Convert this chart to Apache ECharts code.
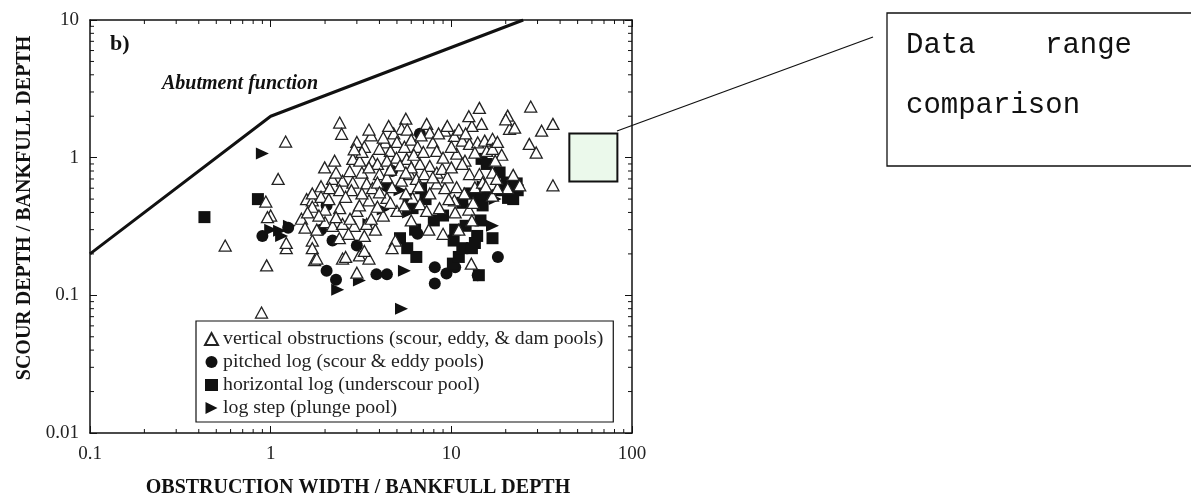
<!DOCTYPE html>
<html>
<head>
<meta charset="utf-8">
<title>Scour depth vs obstruction width</title>
<script src="https://cdn.jsdelivr.net/npm/echarts@6/dist/echarts.min.js"></script>
<style>
  html, body { margin: 0; padding: 0; background: #fff; }
  #myChart { width: 1191px; height: 498px; }
</style>
</head>
<body>
<div id="myChart"></div>
<script>
// data (x = obstruction width / bankfull depth, y = scour depth / bankfull depth)
var verticalObstructions = [
  [0.56, 0.23], [0.89, 0.075], [0.95, 0.165], [1.21, 1.31], [1.1, 0.70], [0.94, 0.48], [1.0, 0.38], [0.96, 0.37],
  [1.22, 0.22], [1.22, 0.24], [1.58, 0.50], [1.7, 0.49], [1.7, 0.44], [1.48, 0.36], [1.7, 0.25], [1.7, 0.22],
  [1.75, 0.18], [1.6, 0.4], [1.8, 0.3], [1.7, 0.55], [1.9, 0.62], [1.9, 0.52], [2.0, 0.42], [2.1, 0.5],
  [2.41, 1.8], [2.47, 1.49], [5.6, 1.92], [5.3, 1.62], [5.7, 1.6], [7.3, 1.76], [7.6, 1.52], [9.2, 1.57],
  [4.3, 1.29], [4.0, 1.16], [4.6, 1.12], [7.9, 1.29], [8.3, 1.12],
  [14.3, 2.3], [14.7, 1.76], [13.0, 1.7], [20.5, 2.02], [21, 1.62], [22.4, 1.65], [27.5, 2.35], [31.6, 1.57],
  [36.5, 1.76], [27, 1.26], [29.5, 1.09], [36.5, 0.63],
  [10.4, 1.44], [11.5, 1.33], [12.6, 1.26], [14, 1.29], [15.3, 1.33], [16.9, 1.37], [10.7, 1.07], [11.9, 0.95],
  [13.5, 1.09], [15.7, 1.12], [16.9, 1.16],
  [2.26, 0.95], [1.99, 0.85], [2.85, 0.98], [3.11, 0.95], [2.74, 0.8], [3.2, 0.78], [3.66, 0.95], [3.9, 0.9],
  [4.0, 0.76], [4.97, 1.0], [5.66, 0.98], [6.7, 0.9], [7.6, 0.87], [8.3, 0.78], [8.9, 0.83],
  [2.2, 0.70], [2.5, 0.68], [2.85, 0.66], [2.12, 0.6], [2.41, 0.58], [2.8, 0.58], [3.4, 0.65], [3.66, 0.6],
  [3.9, 0.66], [4.4, 0.72], [4.7, 0.61], [5.3, 0.68], [5.9, 0.76], [6.4, 0.70], [7.1, 0.76], [6.1, 0.51],
  [6.7, 0.46], [7.6, 0.55], [8.3, 0.65], [9.2, 0.6],
  [2.41, 0.43], [3.0, 0.41], [3.5, 0.49], [4.4, 0.51], [5.0, 0.41], [7.3, 0.41], [8.6, 0.43],
  [11.5, 0.9], [12.6, 0.76], [14.3, 0.76], [16.9, 0.78], [23.9, 0.63], [13.5, 0.61], [14.9, 0.66], [16.9, 0.53],
  [10.7, 0.61], [10.4, 0.49],
  [1.8, 0.185], [2.5, 0.185], [3.1, 0.195], [3.5, 0.185], [3.0, 0.146], [12.9, 0.17], [2.6, 0.19],
  [2.0, 0.34], [2.2, 0.32], [2.5, 0.33], [2.9, 0.32], [3.4, 0.33], [2.4, 0.26], [3.3, 0.27], [3.3, 0.21],
  [4.9, 0.25], [4.7, 0.22],
  [3.0, 1.3], [3.3, 1.2], [3.6, 1.45], [4.2, 1.4], [4.8, 1.5], [5.0, 1.3], [5.5, 1.2], [6.0, 1.35], [6.5, 1.2],
  [6.2, 1.05], [7.0, 1.1], [3.2, 1.1], [2.9, 1.15], [4.4, 0.95], [5.2, 0.88], [6.0, 0.85], [3.5, 0.85],
  [4.6, 0.82], [5.6, 0.78], [2.3, 0.78], [2.6, 0.52], [3.2, 0.55], [4.0, 0.56], [4.6, 0.47], [5.6, 0.55],
  [9.5, 0.72], [10, 0.85], [9.0, 1.0], [10.0, 1.2], [11.0, 1.6], [12, 1.5], [18, 1.3], [19, 1.05], [17.5, 0.95],
  [20, 1.9], [12.5, 2.0], [9.5, 1.7], [8.5, 1.5], [6.8, 1.45], [4.5, 1.7], [3.5, 1.6], [2.7, 0.28], [3.8, 0.3],
  [4.2, 0.38], [3.6, 0.36], [6.0, 0.35], [7.5, 0.3], [10.5, 0.4], [12.5, 0.42], [13.0, 0.35], [11.0, 0.3],
  [9, 0.28], [20.5, 0.6], [22, 0.75], [18, 0.6],
  [1.55, 0.31], [1.85, 0.38], [2.3, 0.37], [2.75, 0.36], [3.1, 0.45], [3.9, 0.44], [5.5, 0.45], [6.6, 0.62],
  [7.9, 0.72], [9.7, 0.5], [11.8, 0.55], [13.2, 0.47], [15.5, 0.62], [17.8, 0.7]
]
var pitchedLog = [
  [0.9, 0.27], [6.7, 1.49], [4.7, 0.8], [2.04, 0.45], [2.04, 0.151], [2.3, 0.13], [3.85, 0.142], [4.4, 0.142],
  [8.1, 0.16], [8.1, 0.122], [9.4, 0.144], [18.1, 0.19], [14, 0.14], [3.0, 0.23], [1.9, 0.3], [2.2, 0.25],
  [1.25, 0.31], [6.5, 0.28], [10.5, 0.16], [4.4, 0.62]
]
var horizontalLog = [
  [0.43, 0.37], [0.85, 0.50], [6.1, 0.43], [6.4, 0.19], [10.2, 0.17], [11, 0.19], [13.9, 0.27], [16.9, 0.26],
  [11.5, 0.22], [13, 0.22], [14.7, 0.98], [15.7, 0.9], [18.5, 0.78], [20.3, 0.66], [23, 0.65], [23.3, 0.58],
  [19, 0.58], [20.6, 0.51], [16.3, 0.53], [14.3, 0.51], [12.6, 0.55], [11.5, 0.47], [14.9, 0.45], [5.2, 0.26],
  [5.7, 0.22], [6.3, 0.3], [10.5, 0.3], [12, 0.32], [10.3, 0.25], [22, 0.5], [9, 0.38], [7.2, 0.5], [6.8, 0.6],
  [5.8, 0.5], [8, 0.35], [14.5, 0.35], [13.5, 0.24], [14.2, 0.14]
]
var logStep = [
  [0.9, 1.07], [1.12, 0.295], [1.27, 0.32], [1.0, 0.3], [5.2, 0.58], [5.5, 0.151], [5.3, 0.08], [2.35, 0.11],
  [3.1, 0.128], [16.9, 0.32], [4.2, 0.42], [5.8, 0.4], [15, 0.62], [3.5, 0.33], [17.5, 0.5], [1.15, 0.27]
]
var abutmentFunction = [[0.1, 0.2], [1, 2], [25, 10]]
var comparisonRange = [[45, 1.5], [83, 0.67]]

var seriesNames = [
  'vertical obstructions (scour, eddy, & dam pools)',
  'pitched log (scour & eddy pools)',
  'horizontal log (underscour pool)',
  'log step (plunge pool)'
]
var xRange = [0.1, 100]
var yRange = [0.01, 10]
var xMinorTicks = [0.2, 0.3, 0.4, 0.5, 0.6, 0.7, 0.8, 0.9, 2, 3, 4, 5, 6, 7, 8, 9, 20, 30, 40, 50, 60, 70, 80, 90]
var yMinorTicks = [0.02, 0.03, 0.04, 0.05, 0.06, 0.07, 0.08, 0.09, 0.2, 0.3, 0.4, 0.5, 0.6, 0.7, 0.8, 0.9, 2, 3, 4, 5, 6, 7, 8, 9]

var serif = '"Liberation Serif", "Times New Roman", serif'
var mono = '"Liberation Mono", "Courier New", monospace'
var ink = '#111'

function logAxis (pos, range, showLabel) {
  return {
    type: 'log',
    logBase: 10,
    position: pos,
    min: range[0],
    max: range[1],
    axisLine: { lineStyle: { color: ink, width: 1.5 } },
    axisTick: { inside: true, length: 7, lineStyle: { color: ink, width: 1 } },
    axisLabel: {
      show: showLabel,
      fontFamily: serif,
      fontSize: 19,
      color: '#222',
      margin: pos === 'left' ? 11 : 12
    },
    splitLine: { show: false }
  }
}

// short inward ticks for the 2..9 positions of every decade, drawn on both sides
function tickPair (a, b, dx, dy) {
  return {
    type: 'group',
    children: [
      { type: 'line', shape: { x1: a[0], y1: a[1], x2: a[0] + dx, y2: a[1] - dy }, style: { stroke: ink, lineWidth: 1 } },
      { type: 'line', shape: { x1: b[0], y1: b[1], x2: b[0] - dx, y2: b[1] + dy }, style: { stroke: ink, lineWidth: 1 } }
    ]
  }
}

var myChart = echarts.init(document.getElementById('myChart'))
myChart.setOption({
  animation: false,
  backgroundColor: '#fff',
  grid: { left: 90, top: 20, width: 542, height: 413 },
  xAxis: [logAxis('bottom', xRange, true), logAxis('top', xRange, false)],
  yAxis: [logAxis('left', yRange, true), logAxis('right', yRange, false)],
  legend: {
    data: [
      seriesNames[0],
      seriesNames[1],
      seriesNames[2],
      { name: seriesNames[3], icon: 'path://M0,0L12,6L0,12Z' }
    ],
    orient: 'vertical',
    left: 196,
    top: 321,
    padding: [8, 10, 4, 8],
    itemGap: 3,
    itemWidth: 13,
    itemHeight: 12,
    borderColor: ink,
    borderWidth: 1.2,
    backgroundColor: '#fff',
    textStyle: { fontFamily: serif, fontSize: 19.8, color: '#222', lineHeight: 20 }
  },
  series: [
    {
      name: 'Abutment function',
      type: 'line',
      data: abutmentFunction,
      showSymbol: false,
      silent: true,
      lineStyle: { color: ink, width: 3 },
      markArea: {
        silent: true,
        itemStyle: { color: '#ebf9eb', borderColor: ink, borderWidth: 2 },
        data: [[{ coord: comparisonRange[0] }, { coord: comparisonRange[1] }]]
      }
    },
    {
      name: seriesNames[1],
      type: 'scatter',
      data: pitchedLog,
      symbol: 'circle',
      symbolSize: 12,
      itemStyle: { color: ink, opacity: 1 }
    },
    {
      name: seriesNames[2],
      type: 'scatter',
      data: horizontalLog,
      symbol: 'rect',
      symbolSize: 12,
      itemStyle: { color: ink, opacity: 1 }
    },
    {
      name: seriesNames[3],
      type: 'scatter',
      data: logStep,
      symbol: 'triangle',
      symbolRotate: -90,
      symbolSize: [12, 13],
      itemStyle: { color: ink, opacity: 1 }
    },
    {
      name: seriesNames[0],
      type: 'scatter',
      z: 3,
      data: verticalObstructions,
      symbol: 'triangle',
      symbolSize: [12, 11],
      itemStyle: { color: '#fff', borderColor: '#222', borderWidth: 1.3, opacity: 1 }
    },
    {
      type: 'custom',
      silent: true,
      data: xMinorTicks.map(function (v) { return [v, 1] }),
      renderItem: function (params, api) {
        var v = api.value(0)
        return tickPair(api.coord([v, yRange[0]]), api.coord([v, yRange[1]]), 0, 4)
      }
    },
    {
      type: 'custom',
      silent: true,
      data: yMinorTicks.map(function (v) { return [1, v] }),
      renderItem: function (params, api) {
        var v = api.value(1)
        return tickPair(api.coord([xRange[0], v]), api.coord([xRange[1], v]), 4, 0)
      }
    }
  ],
  graphic: [
    { type: 'text', left: 110, top: 33, style: { text: 'b)', font: 'bold 22px ' + serif, fill: ink } },
    { type: 'text', left: 162, top: 74, style: { text: 'Abutment function', font: 'italic bold 20px ' + serif, fill: ink } },
    {
      type: 'text', x: 25, y: 208, rotation: Math.PI / 2,
      style: { text: 'SCOUR DEPTH / BANKFULL DEPTH', font: 'bold 20px ' + serif, fill: ink, align: 'center', verticalAlign: 'middle' }
    },
    {
      type: 'text', x: 358, y: 488,
      style: { text: 'OBSTRUCTION WIDTH / BANKFULL DEPTH', font: 'bold 20px ' + serif, fill: ink, align: 'center', verticalAlign: 'middle' }
    },
    // call-out box on the right
    { type: 'line', shape: { x1: 617, y1: 131, x2: 873, y2: 37 }, style: { stroke: ink, lineWidth: 1.3 } },
    { type: 'rect', shape: { x: 887, y: 13, width: 330, height: 153 }, style: { fill: '#fff', stroke: ink, lineWidth: 1.3 } },
    { type: 'text', x: 906, y: 45, style: { text: 'Data', font: '29px ' + mono, fill: ink, verticalAlign: 'middle' } },
    { type: 'text', x: 1045, y: 45, style: { text: 'range', font: '29px ' + mono, fill: ink, verticalAlign: 'middle' } },
    { type: 'text', x: 906, y: 105, style: { text: 'comparison', font: '29px ' + mono, fill: ink, verticalAlign: 'middle' } }
  ]
})
</script>
</body>
</html>
